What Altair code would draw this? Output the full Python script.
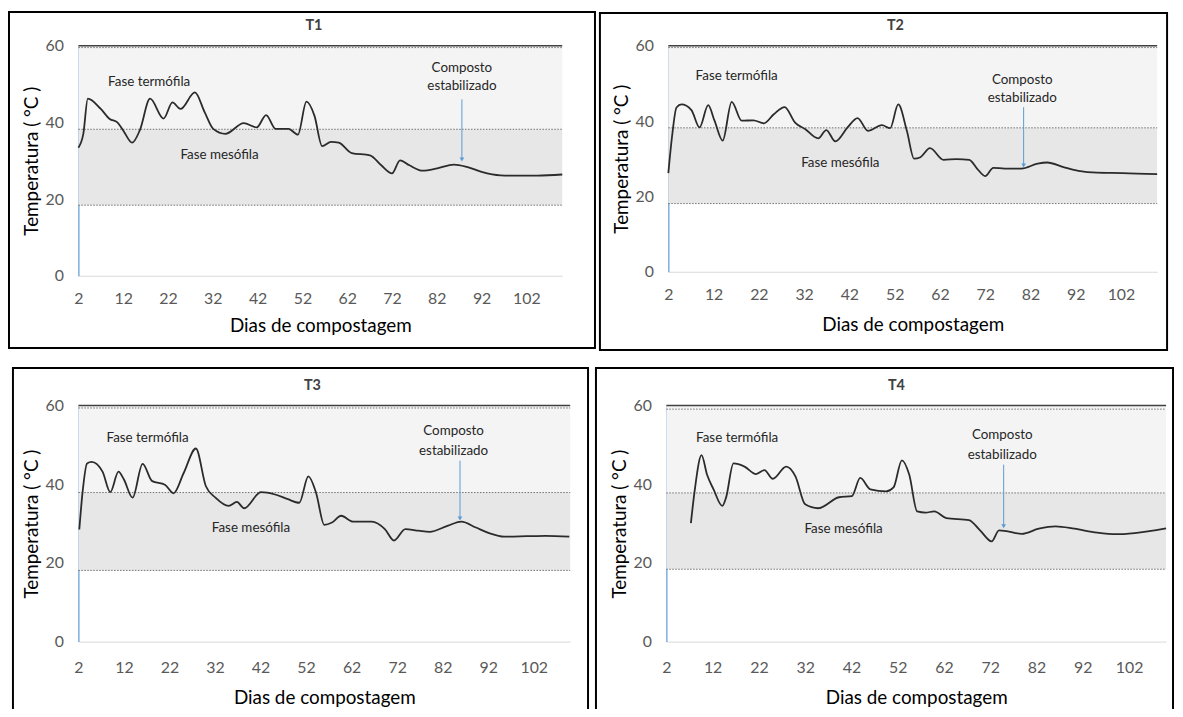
import altair as alt
import pandas as pd

FONT = "Lato"
XTICKS = [2, 12, 22, 32, 42, 52, 62, 72, 82, 92, 102]
YTICKS = [0, 20, 40, 60]

# ---- data (day, temperature in °C) ----
days_t1 = [2, 3.1, 4.1, 7, 9, 10.7, 12, 14, 15.7, 18, 21, 23, 24.8, 28, 30.2, 32.1, 34.8, 38.9, 41.8, 43.9,
           46, 48.9, 51, 52.9, 54.7, 56.4, 58.4, 60.1, 63, 67.1, 69.6, 72, 73.8, 75.9, 78.8, 82.1, 85.8, 88.7,
           92, 96.2, 100.3, 104.5, 110]
temp_t1 = [33.4, 37, 46.2, 43.5, 40.9, 40, 37.9, 34.7, 37.9, 46.2, 41, 45.2, 43.5, 47.8, 42.6, 38.3, 37, 39.8,
           38.7, 41.9, 38.3, 38.3, 36.8, 45.4, 41.7, 33.8, 34.9, 34.7, 32, 31.4, 28.8, 26.7, 30.1, 28.8, 27.4,
           28, 29, 28.4, 27.1, 26.2, 26.1, 26.1, 26.4]

days_t2 = [2, 2.8, 3.8, 4.9, 7.1, 8.9, 10.8, 12.2, 14, 16, 18.2, 20.8, 23.1, 25.3, 27.7, 30, 32.2, 35.1, 36.9,
           38.9, 41.6, 43.8, 46.1, 49.2, 51, 52.8, 54.7, 56.3, 57.7, 59.8, 62.8, 65.7, 68.5, 70.2, 72, 73.8,
           76.3, 80, 83.6, 85.7, 89.3, 92.6, 96.7, 102.4, 110]
temp_t2 = [26.2, 35.7, 43.6, 44.4, 42.9, 38.3, 44.2, 40.1, 34.8, 45.1, 40.1, 40.2, 39.4, 41.8, 43.7, 39.6, 37.9,
           35.4, 37.6, 34.6, 38.3, 40.8, 37.4, 38.9, 38.1, 44.4, 37.4, 30, 30.4, 32.8, 29.7, 29.9, 29.7, 27.4,
           25.4, 27.6, 27.4, 27.4, 28.7, 29, 27.8, 26.8, 26.3, 26.2, 25.9]

days_t3 = [2.2, 2.9, 3.9, 4.9, 7.3, 9, 10.8, 12, 13.9, 16.1, 18.2, 21, 22.9, 25.1, 27.8, 30, 32.1, 35, 36.8,
           38.4, 42.1, 45.2, 48, 50.5, 52.5, 54.2, 56, 57.7, 59.7, 62.3, 66.4, 69.3, 71.3, 73.8, 76.7, 79.1,
           83.2, 86.1, 89.3, 92.2, 95.5, 100.4, 104.5, 109.8]
temp_t3 = [28.5, 37.8, 45.3, 45.7, 43.2, 38, 43.2, 41.2, 36.6, 45.2, 40.8, 39.9, 37.7, 42.8, 49.1, 39.5, 36.6,
           34.5, 35.5, 33.9, 38, 37.4, 36.2, 35.3, 42, 37.8, 29.7, 30.3, 32, 30.5, 30.5, 28.6, 25.7, 28.6, 28.2,
           27.9, 29.5, 30.5, 29, 27.6, 26.7, 26.8, 26.9, 26.7]

days_t4 = [7.3, 8.1, 9.6, 10.8, 12.2, 14.1, 14.9, 16.5, 18.9, 21.4, 23.2, 25, 27.9, 29.9, 32, 34.8, 39.3, 42.1,
           43.9, 46.1, 49.5, 51.1, 52.9, 54.5, 56.2, 58, 59.9, 62.5, 67.4, 69.8, 72.3, 73.9, 75.5, 78.8, 82.5,
           86.1, 90.2, 95.1, 99.2, 103.2, 110]
temp_t4 = [30.1, 38.2, 47.4, 42.4, 38.7, 34.5, 36.6, 45.3, 44.5, 42.6, 43.6, 41.4, 44.5, 42, 34.9, 33.9, 36.7,
           37, 41.6, 38.7, 38.2, 39.2, 46.1, 42.4, 33.1, 32.8, 33.1, 31.4, 30.9, 28.3, 25.5, 28.3, 28.1, 27.4,
           28.7, 29.3, 28.7, 27.7, 27.3, 27.6, 28.8]

# phase bands (°C) and annotation positions (day, °C)
band_low = [18.4, 18.1, 18.1, 18.4]
band_mid = [38.2, 38.2, 37.9, 37.8]
band_top = [59.5, 59.5, 59.4, 59.1]
label_termo = [(17.8, 50.5), (17.1, 51.9), (17.2, 51.8), (17.3, 51.7)]
label_meso = [(33.5, 31.4), (40.0, 28.9), (39.9, 28.8), (40.3, 28.7)]
label_comp = [(87.6, 54.2, 49.5), (80.2, 51.0, 46.0), (84.4, 53.5, 48.5), (74.6, 52.4, 47.5)]
arrows = [(87.6, 46.0, 29.7), (80.5, 43.7, 27.6), (85.8, 46.0, 30.7), (74.9, 45.0, 28.7)]
names = ["T1", "T2", "T3", "T4"]

# layout: plot width/height, frame offsets (left, top, right, bottom), x label/title padding
geom = [
    dict(w=488, h=232, fl=70, ft=34, fr=33, fb=73, xlp=15, xtp=10, open=False),
    dict(w=493, h=228, fl=69, ft=33, fr=10, fb=79, xlp=15, xtp=13, open=False),
    dict(w=496, h=238, fl=66, ft=38, fr=18, fb=68, xlp=18, xtp=13, open=True),
    dict(w=504, h=238, fl=71, ft=38, fr=7, fb=68, xlp=18, xtp=13, open=True),
]
series = [(days_t1, temp_t1), (days_t2, temp_t2), (days_t3, temp_t3), (days_t4, temp_t4)]


def panel(i):
    g = geom[i]
    w, h = g["w"], g["h"]
    days, temps = series[i]
    xs = alt.Scale(domain=[2, 110], nice=False, zero=False)
    ys = alt.Scale(domain=[0, 60], nice=False)
    xax = alt.Axis(
        values=XTICKS, title="Dias de compostagem", labelFlush=False, ticks=False, grid=False,
        domainColor="#d9d9d9", labelColor="#595959", labelFontSize=16, titleFontSize=19,
        labelFont=FONT, titleFont=FONT, titleFontWeight="normal", titleColor="#000000",
        labelPadding=g["xlp"], titlePadding=g["xtp"])
    yax = alt.Axis(
        values=YTICKS, title="Temperatura ( °C )", ticks=False, grid=False,
        domainColor="#5b9bd5", domainWidth=1.2, labelColor="#595959", labelFontSize=16, titleFontSize=19,
        labelFont=FONT, titleFont=FONT, titleFontWeight="normal", titleColor="#000000",
        labelPadding=15, titlePadding=4)

    def X(f):
        return alt.X(f, type="quantitative", scale=xs, axis=xax)

    def Y(f):
        return alt.Y(f, type="quantitative", scale=ys, axis=yax)

    bands = pd.DataFrame({"x0": [2, 2], "x1": [110, 110],
                          "lo": [band_mid[i], band_low[i]], "hi": [60, band_mid[i]],
                          "fill": ["#f4f4f4", "#e7e7e7"]})
    band = alt.Chart(bands).mark_rect().encode(
        x=X("x0"), x2="x1:Q", y=Y("lo"), y2="hi:Q", fill=alt.Fill("fill:N", scale=None))

    dots = pd.DataFrame({"x0": [2, 2, 2], "x1": [110, 110, 110],
                         "lvl": [band_top[i], band_mid[i], band_low[i]]})
    dotted = alt.Chart(dots).mark_rule(color="#6f6f6f", strokeWidth=1, strokeDash=[1.5, 1.5]).encode(
        x=X("x0"), x2="x1:Q", y=Y("lvl"))

    topdf = pd.DataFrame({"x0": [2], "x1": [110], "lvl": [60]})
    topline = alt.Chart(topdf).mark_rule(color="#404040", strokeWidth=1.5).encode(
        x=X("x0"), x2="x1:Q", y=Y("lvl"))

    df = pd.DataFrame({"day": days, "temp": temps})
    line = alt.Chart(df).mark_line(interpolate="monotone", color="#2b2b2b", strokeWidth=1.8).encode(
        x=X("day"), y=Y("temp"))

    tx = pd.DataFrame({
        "day": [label_termo[i][0], label_meso[i][0], label_comp[i][0], label_comp[i][0]],
        "temp": [label_termo[i][1], label_meso[i][1], label_comp[i][1], label_comp[i][2]],
        "txt": ["Fase termófila", "Fase mesófila", "Composto", "estabilizado"]})
    texts = alt.Chart(tx).mark_text(font=FONT, fontSize=13.5, color="#262626").encode(
        x=X("day"), y=Y("temp"), text="txt:N")

    ad = pd.DataFrame({"day": [arrows[i][0]], "top": [arrows[i][1]], "bot": [arrows[i][2] + 0.8],
                       "tip": [arrows[i][2] + 0.6]})
    arrow = alt.Chart(ad).mark_rule(color="#5b9bd5", strokeWidth=1).encode(
        x=X("day"), y=Y("top"), y2="bot:Q")
    head = alt.Chart(ad).mark_point(shape="triangle-down", filled=True, size=22, color="#5b9bd5",
                                    opacity=1).encode(x=X("day"), y=Y("tip"))

    one = pd.DataFrame({"k": [0]})
    L, T, R, B = -g["fl"], -g["ft"], w + g["fr"], h + g["fb"]
    title = alt.Chart(pd.DataFrame({"t": [names[i]]})).mark_text(
        font=FONT, fontSize=14.5, fontWeight="bold", color="#404040", baseline="middle").encode(
        x=alt.value((L + R) / 2 + 12), y=alt.value(-20), text="t:N")
    if not g["open"]:
        frame = [alt.Chart(one).mark_rect(filled=False, stroke="#000000", strokeWidth=2).encode(
            x=alt.value(L), x2=alt.value(R), y=alt.value(T), y2=alt.value(B))]
    else:
        frame = [
            alt.Chart(one).mark_rule(color="#000000", strokeWidth=2).encode(
                x=alt.value(L), y=alt.value(T), y2=alt.value(B)),
            alt.Chart(one).mark_rule(color="#000000", strokeWidth=2).encode(
                x=alt.value(R), y=alt.value(T), y2=alt.value(B)),
            alt.Chart(one).mark_rule(color="#000000", strokeWidth=2).encode(
                x=alt.value(L - 1), x2=alt.value(R + 1), y=alt.value(T)),
        ]

    return alt.layer(band, dotted, topline, line, texts, arrow, head, title, *frame).properties(
        width=w, height=h)


row1 = alt.hconcat(panel(0), panel(1), spacing=3)
row2 = alt.hconcat(panel(2), panel(3), spacing=4)
chart = alt.vconcat(row1, row2, spacing=16).properties(padding=0, background="#ffffff").configure_view(
    stroke=None)

chart.save("out.html", embed_options={"renderer": "svg", "actions": False})
